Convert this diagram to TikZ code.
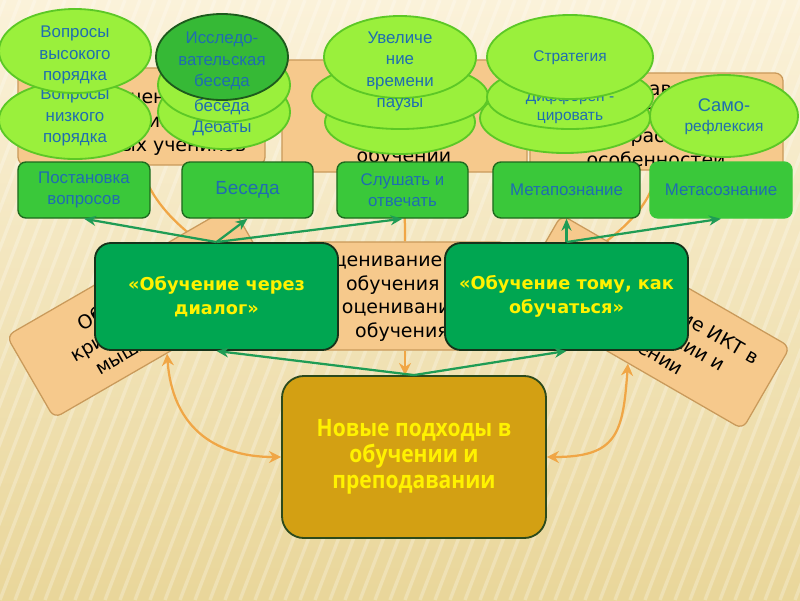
\documentclass[tikz,border=0pt]{standalone}
\usepackage{fontspec}
\setmainfont{DejaVu Sans}
\newfontfamily\labelfont{Liberation Sans}
\newfontfamily\headfont{DejaVu Sans}
\newfontfamily\narrowfont[FakeStretch=0.88]{Open Sans}
\usetikzlibrary{arrows.meta,positioning,shapes.geometric}

\definecolor{bgtop}{HTML}{FBF2DA}
\definecolor{bgbottom}{HTML}{E9D69A}
\definecolor{tanfill}{HTML}{F6C98C}
\definecolor{tanline}{HTML}{C99A5B}
\definecolor{limefill}{HTML}{9AF03C}
\definecolor{limeline}{HTML}{5CC826}
\definecolor{leaffill}{HTML}{36B936}
\definecolor{leafline}{HTML}{1D5A1D}
\definecolor{skillfill}{HTML}{3AC83A}
\definecolor{skillline}{HTML}{1E6A1E}
\definecolor{modefill}{HTML}{00A651}
\definecolor{modeline}{HTML}{16331A}
\definecolor{corefill}{HTML}{D3A013}
\definecolor{coreline}{HTML}{2C4A1C}
\definecolor{bluetext}{HTML}{1F6DB0}
\definecolor{linkgreen}{HTML}{1F9C55}
\definecolor{feedorange}{HTML}{F0A646}

\begin{document}
\begin{tikzpicture}[
    x=0.025cm, y=-0.025cm,
    tanbox/.style={rectangle,rounded corners=0.2cm,draw=tanline,fill=tanfill,line width=0.9pt},
    tantext/.style={align=center,text=black,font=\fontsize{13.5}{16.8}\selectfont},
    bubble/.style={ellipse,draw=limeline,fill=limefill,line width=1.3pt,inner sep=0pt},
    bubbletext/.style={align=center,text=bluetext,font=\labelfont\fontsize{12}{15.3}\selectfont},
    skill/.style={rectangle,rounded corners=0.2cm,draw=skillline,fill=skillfill,line width=1pt,
        minimum height=1.4cm,align=center,text=bluetext,font=\labelfont\fontsize{12}{15.3}\selectfont},
    mode/.style={rectangle,rounded corners=0.4cm,draw=modeline,fill=modefill,line width=1.3pt,
        minimum width=6.075cm,minimum height=2.675cm,align=center,text=yellow,
        font=\headfont\bfseries\fontsize{12.6}{17}\selectfont},
    core/.style={rectangle,rounded corners=0.55cm,draw=coreline,fill=corefill,line width=1.3pt,
        minimum width=6.6cm,minimum height=4.05cm,align=center,text=yellow,
        font=\narrowfont\bfseries\fontsize{17}{18.6}\selectfont},
    link/.style={-{Stealth[length=0.3cm,width=0.25cm]},draw=linkgreen,line width=1.6pt},
    feed/.style={draw=feedorange,line width=1.6pt}
]
\useasboundingbox (0,0) rectangle (800,600);

% Background
\fill[top color=bgtop,bottom color=bgbottom] (0,0) rectangle (800,600);
\begin{scope}
  \clip (0,0) rectangle (800,600);
  \foreach \s in {-16,...,56}
    \draw[white,opacity=0.25,line width=2.4pt] (\s*15,600) -- (\s*15+230,0);
\end{scope}

% Module boxes
\node[tanbox,minimum width=6.175cm,minimum height=2.425cm] (talent) at (141.5,116.5) {};
\node[tantext] (talentlbl) at (141,122) {Обучение\\талантливых и\\одаренных учеников};
\node[tanbox,minimum width=6.125cm,minimum height=2.8cm] (lead) at (404.5,116) {};
\node[tantext] (leadlbl) at (404,134) {Управление и\\лидерство в\\обучении};
\node[tanbox,minimum width=6.325cm,minimum height=2.425cm] (age) at (656.5,121.5) {};
\node[tantext] (agelbl) at (656,124) {Преподавание и\\обучение с учетом\\возрастных\\особенностей};
\node[tanbox,minimum width=5.1cm,minimum height=2.7cm] (assess) at (405,296) {};
\node[tantext] (assesslbl) at (402,297) {Оценивание для\\обучения и\\оценивание\\обучения};

% Links from the modules
\draw[feed] (talent.south) .. controls +(10,45) and +(-100,-40) .. (assess.west);
\draw[feed] (age.south) .. controls +(-5,45) and +(90,-40) .. (assess.east);
\draw[feed] (lead.south) -- (assess.north);

% Rotated modules
\node[tanbox,rotate=30,minimum width=6.5cm,minimum height=2.375cm] (crit) at (143,312) {};
\node[tantext,rotate=30] (critlbl) at (133,321) {Обучение\\критическому\\мышлению};
\node[tanbox,rotate=-30,minimum width=6.6cm,minimum height=2.375cm] (ict) at (652,322) {};
\node[tantext,rotate=-30] (ictlbl) at (652,327) {Использование ИКТ в\\преподавании и\\обучении};

% Bubbles
\node[bubble,minimum width=3.8cm,minimum height=1.95cm] (lowq) at (75,120) {};
\node[bubbletext] (lowqlbl) at (75,117) {Вопросы\\низкого\\порядка};
\node[bubble,minimum width=3.8cm,minimum height=2.1cm] (highq) at (75,51) {};
\node[bubbletext] (highqlbl) at (75,55) {Вопросы\\высокого\\порядка};

\node[bubble,minimum width=3.3cm,minimum height=1.85cm] (debate) at (224,112) {};
\node[bubbletext] (debatelbl) at (222,128) {Дебаты};
\node[bubble,minimum width=3.3cm,minimum height=1.85cm] (chat) at (224,85) {};
\node[bubbletext] (chatlbl) at (222,107) {беседа};
\node[bubble,fill=leaffill,draw=leafline,minimum width=3.3cm,minimum height=2.15cm] (inquiry) at (222,57) {};
\node[bubbletext] (inquirylbl) at (222,61) {Исследо-\\вательская\\беседа};

\node[bubble,minimum width=3.75cm,minimum height=1.6cm] (args) at (400,122) {};
\node[bubble,minimum width=4.4cm,minimum height=1.65cm] (pause) at (400,96) {};
\node[bubble,minimum width=3.8cm,minimum height=2.05cm] (wait) at (400,57) {};
\node[bubbletext] (waitlbl) at (400,71.5) {Увеличе\\ние\\времени\\паузы};

\node[bubble,minimum width=4.25cm,minimum height=1.75cm] (groups) at (565,118) {};
\node[bubble,minimum width=4.15cm,minimum height=1.6cm] (differ) at (570,97) {};
\node[bubbletext,font=\labelfont\fontsize{11}{14}\selectfont] (differlbl) at (570,107) {Дифферен -\\цировать};
\node[bubble,minimum width=4.15cm,minimum height=2.1cm] (strategy) at (570,57) {};
\node[bubbletext,font=\labelfont\fontsize{11}{14}\selectfont] (strategylbl) at (570,58) {Стратегия};
\node[bubble,minimum width=3.7cm,minimum height=2.05cm] (reflect) at (724,116) {};
\node[bubbletext,font=\labelfont\fontsize{11}{14}\selectfont] (reflectlbl) at (724,117) {{\fontsize{13}{15}\selectfont Само-}\\рефлексия};

% Skills
\node[skill,minimum width=3.3cm] (question) at (84,190) {Постановка\\вопросов};
\node[skill,minimum width=3.275cm,font=\labelfont\fontsize{13.5}{16}\selectfont] (talk) at (247.5,190) {Беседа};
\node[skill,minimum width=3.275cm] (listen) at (402.5,190) {Слушать и\\отвечать};
\node[skill,minimum width=3.675cm] (metacog) at (566.5,190) {Метапознание};
\node[skill,minimum width=3.55cm,draw=skillfill] (metaaware) at (721,190) {Метасознание};

% Ways of learning
\node[mode] (dialogue) at (216.5,296.5) {«Обучение через\\диалог»};
\node[mode] (howto) at (566.5,296.5) {«Обучение тому, как\\обучаться»};
\draw[link] (dialogue.north) -- (question.south);
\draw[link] (dialogue.north) -- (talk.south);
\draw[link] (dialogue.north) -- (listen.south);
\draw[link] (howto.north) -- (metacog.south);
\draw[link] (howto.north) -- (metaaware.south);

% Core
\node[core] (approach) at (414,457) {Новые подходы в\\обучении и\\преподавании};
\draw[feed,-{Stealth[length=0.3cm,width=0.3cm]}] (assess.south) -- (assess.south |- approach.north);
\draw[feed,{Stealth[length=0.3cm,width=0.3cm]}-{Stealth[length=0.3cm,width=0.3cm]}] (crit.south) .. controls +(5,70) and +(-70,0) .. (approach.west);
\draw[feed,{Stealth[length=0.3cm,width=0.3cm]}-{Stealth[length=0.3cm,width=0.3cm]}] (ict.south) .. controls +(-5,70) and +(70,0) .. (approach.east);
\draw[link] (approach.north) -- (dialogue.south);
\draw[link] (approach.north) -- (howto.south);

\end{tikzpicture}
\end{document}
